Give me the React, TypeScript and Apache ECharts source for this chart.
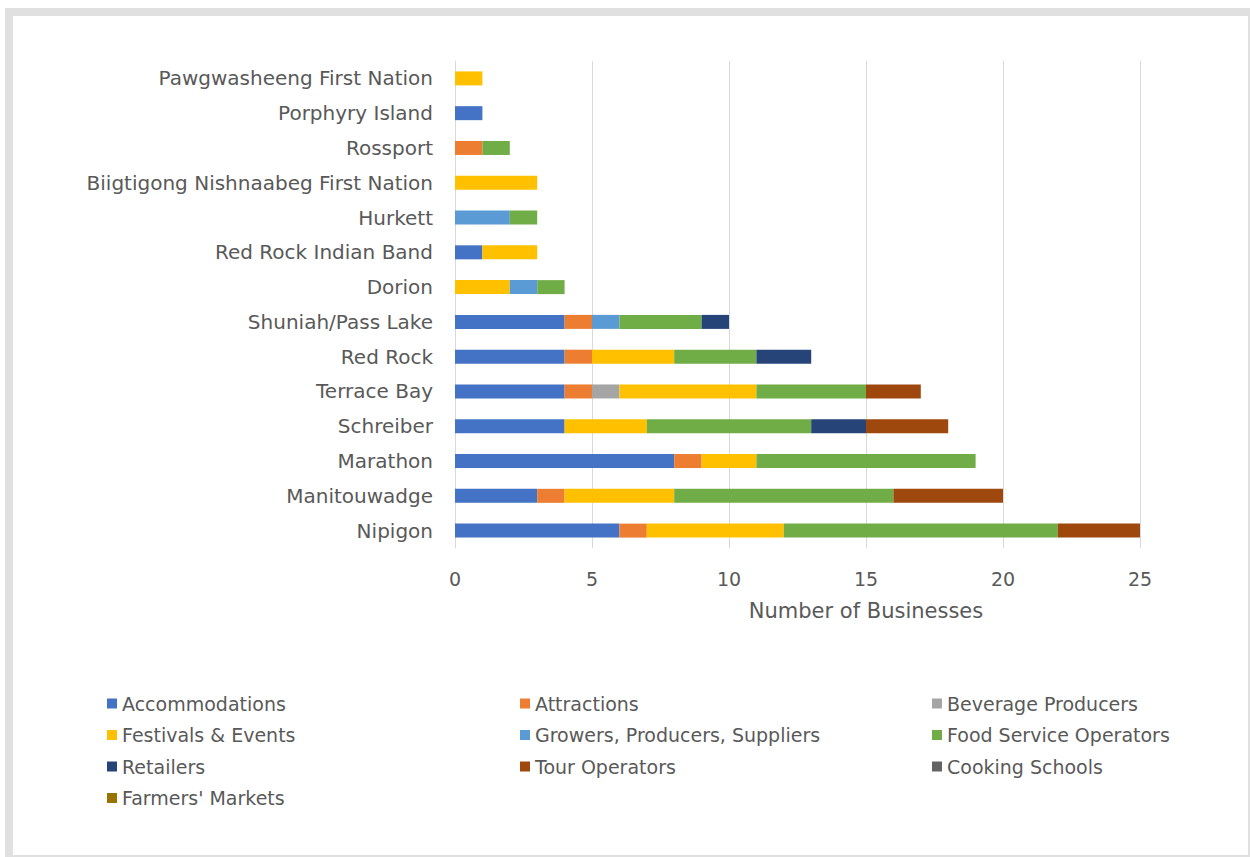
import React, { useEffect, useRef } from "react";
import * as echarts from "echarts";

const categories = [
  "Nipigon",
  "Manitouwadge",
  "Marathon",
  "Schreiber",
  "Terrace Bay",
  "Red Rock",
  "Shuniah/Pass Lake",
  "Dorion",
  "Red Rock Indian Band",
  "Hurkett",
  "Biigtigong Nishnaabeg First Nation",
  "Rossport",
  "Porphyry Island",
  "Pawgwasheeng First Nation",
];

const seriesNames = [
  "Accommodations",
  "Attractions",
  "Beverage Producers",
  "Festivals & Events",
  "Growers, Producers, Suppliers",
  "Food Service Operators",
  "Retailers",
  "Tour Operators",
  "Cooking Schools",
  "Farmers' Markets",
];

const accommodations = [6, 3, 8, 4, 4, 4, 4, 0, 1, 0, 0, 0, 1, 0];
const attractions = [1, 1, 1, 0, 1, 1, 1, 0, 0, 0, 0, 1, 0, 0];
const beverageProducers = [0, 0, 0, 0, 1, 0, 0, 0, 0, 0, 0, 0, 0, 0];
const festivalsEvents = [5, 4, 2, 3, 5, 3, 0, 2, 2, 0, 3, 0, 0, 1];
const growers = [0, 0, 0, 0, 0, 0, 1, 1, 0, 2, 0, 0, 0, 0];
const foodService = [10, 8, 8, 6, 4, 3, 3, 1, 0, 1, 0, 1, 0, 0];
const retailers = [0, 0, 0, 2, 0, 2, 1, 0, 0, 0, 0, 0, 0, 0];
const tourOperators = [3, 4, 0, 3, 2, 0, 0, 0, 0, 0, 0, 0, 0, 0];
const cookingSchools = [0, 0, 0, 0, 0, 0, 0, 0, 0, 0, 0, 0, 0, 0];
const farmersMarkets = [0, 0, 0, 0, 0, 0, 0, 0, 0, 0, 0, 0, 0, 0];

const seriesValues = [
  accommodations,
  attractions,
  beverageProducers,
  festivalsEvents,
  growers,
  foodService,
  retailers,
  tourOperators,
  cookingSchools,
  farmersMarkets,
];

const colors = [
  "#4472C4",
  "#ED7D31",
  "#A5A5A5",
  "#FFC000",
  "#5B9BD5",
  "#70AD47",
  "#264478",
  "#9E480E",
  "#636363",
  "#997300",
];

const xTicks = [0, 5, 10, 15, 20, 25];

const legendCol1 = ["Accommodations", "Festivals & Events", "Retailers", "Farmers' Markets"];
const legendCol2 = ["Attractions", "Growers, Producers, Suppliers", "Tour Operators"];
const legendCol3 = ["Beverage Producers", "Food Service Operators", "Cooking Schools"];

const FONT = "'DejaVu Sans', sans-serif";
const TEXT_COLOR = "#595959";

export default function App() {
  const ref = useRef<HTMLDivElement>(null);

  useEffect(() => {
    if (!ref.current) return;
    const chart = echarts.init(ref.current, null, { renderer: "svg" });

    const legendBase = {
      orient: "vertical" as const,
      top: 688,
      itemWidth: 10,
      itemHeight: 10,
      itemGap: 10.5,
      icon: "rect",
      selectedMode: false,
      textStyle: { fontFamily: FONT, fontSize: 19, color: TEXT_COLOR, lineHeight: 21 },
    };

    chart.setOption({
      animation: false,
      backgroundColor: "transparent",
      color: colors,
      textStyle: { fontFamily: FONT },
      grid: { left: 455, right: 110, top: 61, height: 487, containLabel: false },
      legend: [
        { ...legendBase, left: 102, data: legendCol1 },
        { ...legendBase, left: 515, data: legendCol2 },
        { ...legendBase, left: 927, data: legendCol3 },
      ],
      xAxis: {
        type: "value",
        min: xTicks[0],
        max: xTicks[xTicks.length - 1],
        interval: 5,
        axisLine: { show: false },
        axisTick: { show: false },
        splitLine: { show: true, lineStyle: { color: "#d9d9d9", width: 1 } },
        axisLabel: { fontFamily: FONT, fontSize: 19, color: TEXT_COLOR, margin: 21 },
      },
      yAxis: {
        type: "category",
        data: categories,
        axisLine: { show: true, lineStyle: { color: "#d9d9d9", width: 1 } },
        axisTick: { show: false },
        axisLabel: { fontFamily: FONT, fontSize: 20, color: TEXT_COLOR, margin: 22 },
      },
      graphic: [
        {
          type: "text",
          x: 866,
          y: 611,
          style: {
            text: "Number of Businesses",
            fontFamily: FONT,
            fontSize: 21,
            fill: TEXT_COLOR,
            align: "center",
            verticalAlign: "middle",
          },
        },
      ],
      series: seriesNames.map((name, i) => ({
        name,
        type: "bar",
        stack: "total",
        barWidth: 14,
        data: seriesValues[i],
        itemStyle: { color: colors[i] },
      })),
    });

    return () => chart.dispose();
  }, []);

  return (
    <div style={{ position: "fixed", left: 0, top: 0, width: 1250, height: 857, background: "#ffffff" }}>
      <div
        style={{
          position: "absolute",
          left: 5,
          top: 8,
          width: 1245,
          height: 849,
          background: "#e0e0e0",
        }}
      />
      <div
        style={{
          position: "absolute",
          left: 13,
          top: 16,
          width: 1235,
          height: 839,
          background: "#ffffff",
        }}
      />
      <div ref={ref} style={{ position: "absolute", left: 0, top: 0, width: 1250, height: 857 }} />
    </div>
  );
}
